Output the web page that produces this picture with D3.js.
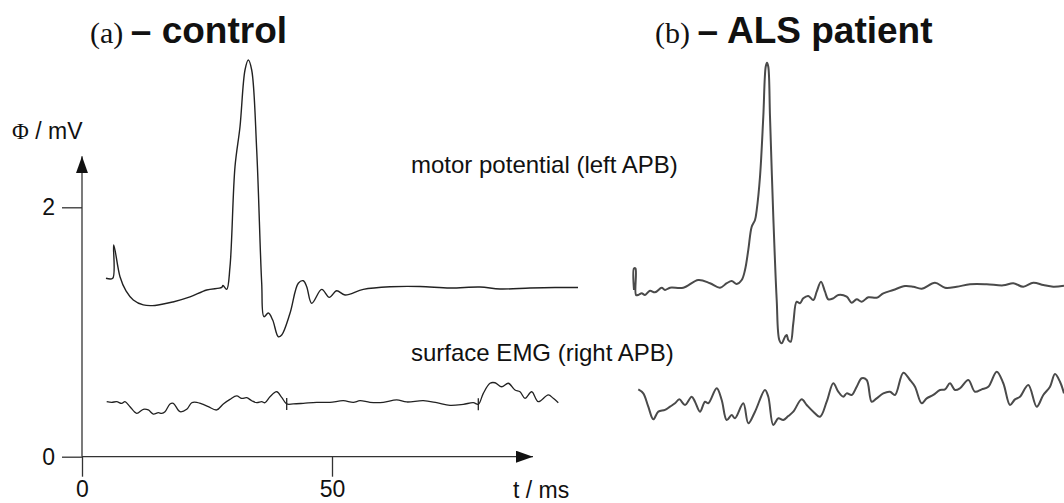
<!DOCTYPE html>
<html>
<head>
<meta charset="utf-8">
<script src="https://cdn.jsdelivr.net/npm/d3@7"></script>
<style>
  html, body { margin: 0; padding: 0; background: #fff; }
  svg { display: block; }
  .lbl { font-family: "Liberation Sans", Arial, sans-serif; fill: #111; }
  .tick text { font-family: "Liberation Sans", Arial, sans-serif; font-size: 23px; fill: #111; }
  .tick line { stroke: #333; stroke-width: 1.3; }
</style>
</head>
<body>
<div id="chart"></div>
<script>
// time in ms, potential in mV
var ctrlMotor = [
  [4.8, 1.431], [6.14, 1.431], [6.34, 1.698], [7.6, 1.443], [8.8, 1.329], [10.26, 1.257],
  [12.26, 1.217], [14.6, 1.213], [18.2, 1.241], [21.6, 1.281], [24.94, 1.337], [27.94, 1.358],
  [28.2, 1.373], [28.94, 1.342], [29.6, 1.524], [30.6, 2.326], [31.6, 2.646], [32.6, 3.101],
  [33.26, 3.181], [33.94, 3.101], [34.94, 2.46], [35.94, 1.391], [36.4, 1.123], [37.26, 1.152],
  [38.14, 1.096], [39.26, 0.962], [39.94, 0.976], [41.6, 1.15], [43.26, 1.391], [44.26, 1.411],
  [44.94, 1.363], [45.94, 1.23], [47.94, 1.342], [49.46, 1.278], [50.94, 1.331], [52.6, 1.297],
  [56.26, 1.342], [61.6, 1.363], [67.6, 1.365], [73.6, 1.353], [79.6, 1.361], [83.6, 1.345],
  [89.6, 1.353], [94.6, 1.357], [99.2, 1.357]
];
var ctrlEmg = [
  [4.94, 0.441], [5.94, 0.436], [6.94, 0.441], [7.94, 0.428], [8.6, 0.441], [9.6, 0.401],
  [10.94, 0.348], [12.26, 0.38], [13.26, 0.375], [14.26, 0.342], [15.26, 0.353], [15.94, 0.348],
  [16.6, 0.361], [17.6, 0.423], [18.26, 0.428], [19.6, 0.361], [20.94, 0.38], [21.94, 0.433],
  [22.94, 0.436], [23.94, 0.423], [25.26, 0.401], [26.94, 0.375], [28.26, 0.423], [29.6, 0.46],
  [30.94, 0.487], [31.94, 0.468], [32.94, 0.473], [33.94, 0.449], [34.94, 0.433], [35.94, 0.441],
  [36.6, 0.433], [37.6, 0.481], [38.94, 0.521], [39.94, 0.476], [40.94, 0.423], [42.26, 0.423],
  [44.26, 0.428], [46.94, 0.436], [49.6, 0.436], [52.26, 0.449], [54.26, 0.436], [55.6, 0.449],
  [57.6, 0.436], [60.26, 0.436], [62.94, 0.455], [64.94, 0.439], [68.26, 0.449], [70.94, 0.433],
  [73.6, 0.412], [76.26, 0.42], [78.26, 0.433], [79.26, 0.42], [80.26, 0.508], [81.6, 0.589],
  [82.6, 0.593], [83.94, 0.561], [85.26, 0.589], [86.6, 0.535], [87.6, 0.521], [88.6, 0.468],
  [89.94, 0.521], [91.26, 0.441], [93.26, 0.495], [94.26, 0.468], [95.26, 0.433]
];
// event marks on the control EMG trace
var ctrlMarks = [[40.94, 0.423], [79.26, 0.42]];

// ALS traces, time counted from the start of panel (b)
var alsShift = 110;
var alsMotor = [
  [0.4, 1.337], [0.4, 1.509], [0.7, 1.509], [0.8, 1.297], [1.26, 1.297], [1.94, 1.31],
  [2.6, 1.297], [3.6, 1.331], [4.6, 1.318], [5.94, 1.355], [6.6, 1.337], [7.6, 1.355],
  [10.26, 1.355], [13.26, 1.417], [15.6, 1.391], [17.6, 1.355], [18.94, 1.391], [19.94, 1.409],
  [20.94, 1.385], [21.94, 1.417], [22.6, 1.497], [23.26, 1.658], [23.94, 1.844], [24.6, 1.898],
  [24.94, 1.978], [25.6, 2.245], [26.26, 2.727], [26.74, 3.127], [27.0, 3.16], [27.26, 3.127],
  [27.6, 2.727], [28.26, 1.925], [28.94, 1.257], [29.46, 0.936], [29.94, 0.909], [30.6, 0.962],
  [30.94, 0.976], [31.26, 0.936], [31.74, 0.922], [32.26, 1.07], [32.94, 1.243], [33.6, 1.23],
  [34.26, 1.27], [35.26, 1.289], [36.26, 1.257], [36.94, 1.323], [37.8, 1.403], [38.6, 1.323],
  [39.26, 1.262], [40.26, 1.27], [41.26, 1.297], [42.94, 1.283], [43.94, 1.235], [44.94, 1.262],
  [45.94, 1.243], [47.26, 1.278], [48.94, 1.275], [50.26, 1.31], [52.26, 1.337], [54.6, 1.369],
  [56.26, 1.363], [57.94, 1.347], [60.6, 1.395], [62.6, 1.355], [64.94, 1.363], [67.6, 1.383],
  [70.94, 1.383], [74.26, 1.374], [76.26, 1.391], [78.26, 1.363], [80.26, 1.395], [82.26, 1.377],
  [84.26, 1.363], [86.4, 1.371]
];
var alsEmg = [
  [1.26, 0.54], [2.26, 0.508], [3.26, 0.401], [4.26, 0.3], [5.26, 0.361], [6.6, 0.375],
  [7.6, 0.401], [8.6, 0.428], [9.46, 0.46], [10.6, 0.415], [11.94, 0.481], [12.6, 0.441],
  [13.6, 0.361], [14.6, 0.441], [15.26, 0.428], [16.94, 0.549], [17.94, 0.455], [18.94, 0.294],
  [19.94, 0.334], [20.6, 0.308], [22.26, 0.428], [23.26, 0.268], [24.6, 0.361], [26.6, 0.535],
  [27.26, 0.481], [28.26, 0.254], [29.26, 0.308], [30.26, 0.294], [31.26, 0.326], [32.26, 0.361],
  [33.94, 0.46], [34.94, 0.415], [36.26, 0.361], [37.6, 0.321], [38.94, 0.441], [40.26, 0.589],
  [41.26, 0.521], [42.26, 0.481], [42.94, 0.508], [43.94, 0.495], [44.94, 0.561], [45.94, 0.629],
  [46.94, 0.615], [47.94, 0.441], [48.94, 0.468], [50.26, 0.508], [51.6, 0.521], [52.6, 0.495],
  [54.26, 0.674], [55.6, 0.615], [56.6, 0.561], [57.94, 0.428], [58.94, 0.468], [60.26, 0.495],
  [61.6, 0.535], [62.6, 0.54], [63.6, 0.589], [64.6, 0.535], [65.6, 0.549], [67.26, 0.615],
  [68.6, 0.521], [69.94, 0.54], [71.26, 0.561], [72.94, 0.682], [74.26, 0.589], [75.6, 0.415],
  [76.6, 0.46], [77.6, 0.481], [79.26, 0.575], [80.94, 0.401], [82.26, 0.495], [83.6, 0.561],
  [84.6, 0.663], [85.6, 0.601], [86.4, 0.508]
];

var xTicks = [0, 50];
var yTicks = [0, 2];

var width = 1064, height = 503;
var x = d3.scaleLinear().domain([0, 50]).range([82, 332]);
var y = d3.scaleLinear().domain([0, 2]).range([456.7, 207.3]);
var xMax = 90.2, yMax = 2.41;

var svg = d3.select("#chart").append("svg")
    .attr("width", width)
    .attr("height", height);

var defs = svg.append("defs");
defs.append("marker")
    .attr("id", "arrow")
    .attr("viewBox", "0 0 17 12")
    .attr("refX", 17).attr("refY", 6)
    .attr("markerWidth", 17).attr("markerHeight", 12)
    .attr("markerUnits", "userSpaceOnUse")
    .attr("orient", "auto")
  .append("path")
    .attr("d", "M0,0L17,6L0,12Z")
    .attr("fill", "#111");

// axes
var axisG = svg.append("g");
axisG.append("g")
    .attr("transform", "translate(0," + y(0) + ")")
    .call(d3.axisBottom(x).tickValues(xTicks).tickFormat(d3.format("d")).tickSize(20).tickPadding(4))
    .call(function (g) { g.select(".domain").remove(); });
axisG.append("g")
    .attr("transform", "translate(" + x(0) + ",0)")
    .call(d3.axisLeft(y).tickValues(yTicks).tickFormat(d3.format("d")).tickSize(20).tickPadding(7))
    .call(function (g) { g.select(".domain").remove(); });

axisG.append("line")
    .attr("x1", x(0)).attr("y1", y(0))
    .attr("x2", x(xMax)).attr("y2", y(0))
    .attr("stroke", "#333").attr("stroke-width", 1.3)
    .attr("marker-end", "url(#arrow)");
axisG.append("line")
    .attr("x1", x(0)).attr("y1", y(0))
    .attr("x2", x(0)).attr("y2", y(yMax))
    .attr("stroke", "#333").attr("stroke-width", 1.3)
    .attr("marker-end", "url(#arrow)");

var yLabel = svg.append("text")
    .attr("class", "lbl")
    .attr("x", 12).attr("y", 139)
    .attr("font-size", 23);
yLabel.append("tspan").attr("font-family", "Liberation Serif, Times New Roman, serif").text("Φ");
yLabel.append("tspan").text(" / mV");

svg.append("text")
    .attr("class", "lbl")
    .attr("x", 513).attr("y", 498)
    .attr("font-size", 23)
    .text("t / ms");

// panel titles
function title(xPos, letter, name) {
  var t = svg.append("text")
      .attr("x", xPos).attr("y", 43)
      .attr("fill", "#111");
  t.append("tspan")
      .attr("font-family", "Liberation Serif, Times New Roman, serif")
      .attr("font-size", 30)
      .text(letter + " ");
  t.append("tspan")
      .attr("font-family", "Liberation Sans, Arial, sans-serif")
      .attr("font-weight", "bold")
      .attr("font-size", 37)
      .text("– " + name);
}
title(90, "(a)", "control");
title(655, "(b)", "ALS patient");

// trace labels
svg.append("text").attr("class", "lbl")
    .attr("x", 411).attr("y", 173).attr("font-size", 24)
    .text("motor potential (left APB)");
svg.append("text").attr("class", "lbl")
    .attr("x", 411).attr("y", 361).attr("font-size", 24)
    .text("surface EMG (right APB)");

// traces
var line = d3.line()
    .x(function (d) { return x(d[0]); })
    .y(function (d) { return y(d[1]); })
    .curve(d3.curveCatmullRom.alpha(0.5));

var alsLine = d3.line()
    .x(function (d) { return x(d[0] + alsShift); })
    .y(function (d) { return y(d[1]); })
    .curve(d3.curveCatmullRom.alpha(0.5));

var traces = svg.append("g").attr("fill", "none").attr("stroke-linejoin", "round");
traces.append("path").datum(ctrlMotor).attr("d", line)
    .attr("stroke", "#222").attr("stroke-width", 1.4);
traces.append("path").datum(ctrlEmg).attr("d", line)
    .attr("stroke", "#222").attr("stroke-width", 1.3);
traces.append("path").datum(alsMotor).attr("d", alsLine)
    .attr("stroke", "#4a4a4a").attr("stroke-width", 2);
traces.append("path").datum(alsEmg).attr("d", alsLine)
    .attr("stroke", "#4a4a4a").attr("stroke-width", 2);

traces.selectAll("line.mark")
    .data(ctrlMarks)
    .enter().append("line")
    .attr("class", "mark")
    .attr("x1", function (d) { return x(d[0]); })
    .attr("x2", function (d) { return x(d[0]); })
    .attr("y1", function (d) { return y(d[1]) - 6; })
    .attr("y2", function (d) { return y(d[1]) + 6; })
    .attr("stroke", "#222").attr("stroke-width", 1.3);
</script>
</body>
</html>
